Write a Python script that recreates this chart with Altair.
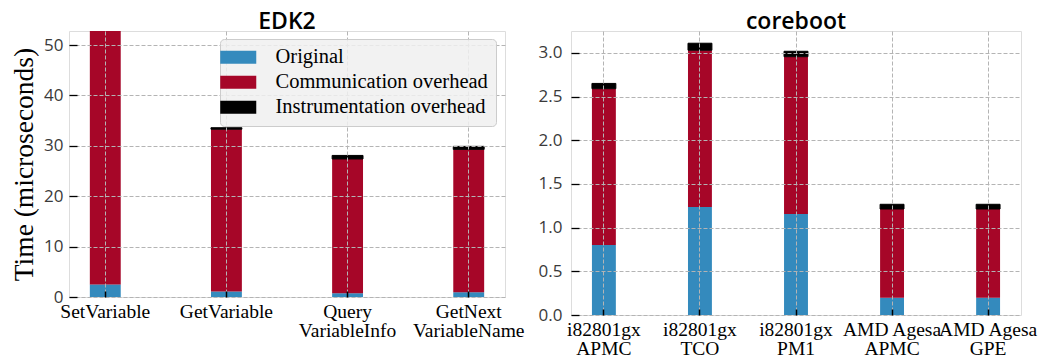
import altair as alt
import pandas as pd

# ---- data ----
kinds = ["Original", "Communication overhead", "Instrumentation overhead"]
colors = ["#348ABD", "#A60628", "#000000"]

edk_cats = ["SetVariable", "GetVariable", "Query\nVariableInfo", "GetNext\nVariableName"]
edk_original = [2.5, 1.1, 0.75, 0.95]
edk_comm = [51.5, 32.2, 26.65, 28.35]
edk_instr = [0.5, 0.3, 0.7, 0.6]

cb_cats = ["i82801gx\nAPMC", "i82801gx\nTCO", "i82801gx\nPM1", "AMD Agesa\nAPMC", "AMD Agesa\nGPE"]
cb_original = [0.80, 1.236, 1.156, 0.198, 0.198]
cb_comm = [1.79, 1.794, 1.80, 1.015, 1.015]
cb_instr = [0.06, 0.08, 0.062, 0.054, 0.054]

edk_yticks = [0, 10, 20, 30, 40, 50]
cb_yticks = [0.0, 0.5, 1.0, 1.5, 2.0, 2.5, 3.0]


def long_df(cats, orig, comm, instr):
    rows = []
    for i, c in enumerate(cats):
        for k, (kind, vals) in enumerate(zip(kinds, [orig, comm, instr])):
            rows.append({"category": c, "kind": kind, "value": vals[i], "ord": k})
    return pd.DataFrame(rows)


edk_df = long_df(edk_cats, edk_original, edk_comm, edk_instr)
cb_df = long_df(cb_cats, cb_original, cb_comm, cb_instr)

SERIF = "Liberation Serif"
SANS = "Open Sans"
GRID = "#b4b4b4"


def panel(df, cats, title, width, height, ymax, yticks, fmt, pad_in, pad_out,
          legend, ytitle, ylabpad):
    yaxis_kw = dict(
        values=yticks, format=fmt, labelFont=SANS, labelFontSize=17,
        labelColor="#3a3a3a", tickColor="black", tickSize=8, tickWidth=1.3,
        offset=-8, domain=False, grid=True, gridDash=[4, 2], gridColor=GRID,
        gridWidth=1, zindex=1, labelPadding=ylabpad,
    )
    if ytitle:
        yaxis_kw.update(title=ytitle, titleFont=SERIF, titleFontSize=27.5,
                        titleFontWeight="normal", titleColor="black", titlePadding=5)
    else:
        yaxis_kw.update(title=None)
    return alt.Chart(df).mark_bar(clip=True, strokeWidth=1).encode(
        x=alt.X("category:N", sort=cats,
                scale=alt.Scale(paddingInner=pad_in, paddingOuter=pad_out),
                axis=alt.Axis(title=None, labelExpr="split(datum.label, '\\n')",
                              bandPosition=0.5, labelAngle=0, labelFont=SERIF,
                              labelFontSize=19.5, labelLineHeight=19, labelColor="black",
                              labelOverlap=False, labelBound=False,
                              tickColor="black", tickSize=6, tickWidth=1.5, offset=-6,
                              domain=False, grid=True, gridDash=[4, 2], gridColor=GRID,
                              gridWidth=1, zindex=1, labelPadding=5)),
        y=alt.Y("value:Q", stack="zero",
                scale=alt.Scale(domain=[0, ymax], nice=False, zero=True),
                axis=alt.Axis(**yaxis_kw)),
        color=alt.Color("kind:N", scale=alt.Scale(domain=kinds, range=colors),
                        legend=legend),
        order=alt.Order("ord:Q"),
        stroke=alt.condition("datum.kind == 'Instrumentation overhead'",
                             alt.value("black"), alt.value("transparent")),
    ).properties(
        width=width, height=height,
        title=alt.Title(title, font=SANS, fontSize=23, fontWeight=600,
                        color="black", offset=-3, anchor="middle", frame="group"),
    )


legend = alt.Legend(
    title=None, orient="none", legendX=151, legendY=8,
    symbolType="M-2.77,-1H2.77V1H-2.77Z", symbolSize=169, symbolStrokeWidth=0,
    symbolOpacity=1, labelFont=SERIF, labelFontSize=20.5, labelColor="black",
    labelOffset=27, labelLimit=400, rowPadding=4, padding=8,
    fillColor="rgba(240,240,240,0.85)", strokeColor="#cccccc",
    cornerRadius=4, zindex=2,
)

left = panel(edk_df, edk_cats, "EDK2", 436, 266, 52.8, edk_yticks, "d",
             0.745, 0.172, legend, "Time (microseconds)", 6)
right = panel(cb_df, cb_cats, "coreboot", 450, 284, 3.25, cb_yticks, ".1f",
              0.751, 0.218, None, None, 9)

chart = alt.hconcat(left, right, spacing=66, bounds="flush").resolve_scale(
    color="independent"
).properties(
    padding={"top": 2, "left": 2, "right": 0, "bottom": 0}
).configure_view(
    stroke="#bcbcbc", strokeWidth=1.5
).configure(background="white")

chart.save("out.html", embed_options={"renderer": "svg", "actions": False})
